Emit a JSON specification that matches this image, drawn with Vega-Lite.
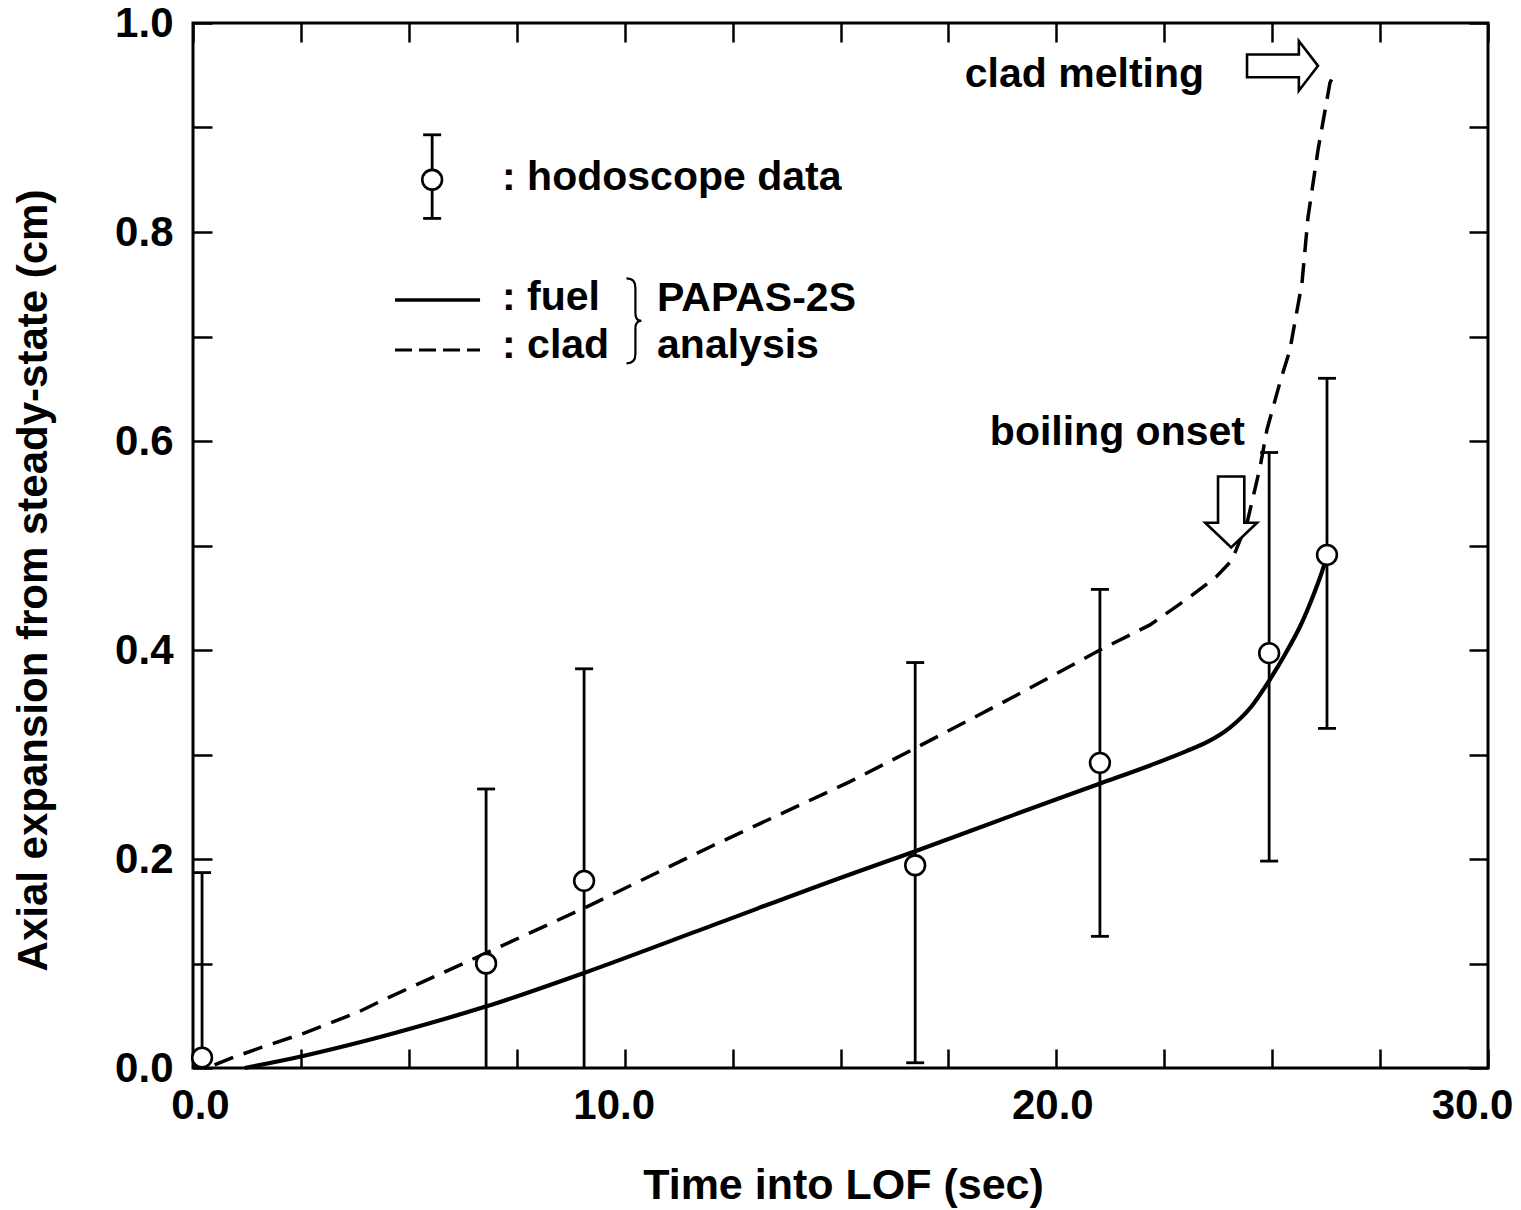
{
  "$schema": "https://vega.github.io/schema/vega-lite/v6.json",
  "width": 1295,
  "height": 1045,
  "autosize": {"type": "none"},
  "padding": {"left": 193, "top": 23, "right": 33, "bottom": 142},
  "background": "white",
  "config": {
    "view": {"stroke": "black", "strokeWidth": 3},
    "font": "Liberation Sans",
    "text": {"font": "Liberation Sans", "fontWeight": "bold", "fontSize": 41, "color": "black"}
  },
  "datasets": {
    "fuel": [
      {"t": 1.2, "v": 0.0}, {"t": 2.5, "v": 0.011}, {"t": 4.0, "v": 0.026}, {"t": 5.5, "v": 0.043},
      {"t": 6.8, "v": 0.059}, {"t": 9.06, "v": 0.091}, {"t": 12.0, "v": 0.136}, {"t": 15.2, "v": 0.185},
      {"t": 16.7, "v": 0.207}, {"t": 19.0, "v": 0.242}, {"t": 21.0, "v": 0.272}, {"t": 22.2, "v": 0.29},
      {"t": 23.0, "v": 0.303}, {"t": 23.5, "v": 0.312}, {"t": 24.0, "v": 0.325}, {"t": 24.5, "v": 0.345},
      {"t": 24.95, "v": 0.372}, {"t": 25.3, "v": 0.396}, {"t": 25.64, "v": 0.422}, {"t": 25.95, "v": 0.452},
      {"t": 26.18, "v": 0.478}, {"t": 26.3, "v": 0.495}
    ],
    "clad": [
      {"t": 0.5, "v": 0.003}, {"t": 0.9, "v": 0.0096}, {"t": 1.6, "v": 0.02}, {"t": 2.55, "v": 0.033},
      {"t": 3.8, "v": 0.053}, {"t": 4.4, "v": 0.065}, {"t": 6.79, "v": 0.11}, {"t": 9.06, "v": 0.153},
      {"t": 12.0, "v": 0.212}, {"t": 15.22, "v": 0.274}, {"t": 16.73, "v": 0.306}, {"t": 19.0, "v": 0.355},
      {"t": 21.01, "v": 0.4}, {"t": 22.17, "v": 0.424}, {"t": 23.1, "v": 0.451}, {"t": 23.7, "v": 0.47},
      {"t": 24.07, "v": 0.486}, {"t": 24.42, "v": 0.522}, {"t": 24.72, "v": 0.575}, {"t": 24.88, "v": 0.611},
      {"t": 25.18, "v": 0.656}, {"t": 25.41, "v": 0.687}, {"t": 25.69, "v": 0.751}, {"t": 25.83, "v": 0.814},
      {"t": 26.06, "v": 0.878}, {"t": 26.34, "v": 0.943}, {"t": 26.39, "v": 0.947}
    ],
    "hodoscope": [
      {"t": 0.21, "v": 0.01, "lo": -0.167, "hi": 0.187},
      {"t": 6.79, "v": 0.1, "lo": -0.066, "hi": 0.267},
      {"t": 9.06, "v": 0.179, "lo": -0.024, "hi": 0.382},
      {"t": 16.73, "v": 0.194, "lo": 0.005, "hi": 0.388},
      {"t": 21.01, "v": 0.292, "lo": 0.126, "hi": 0.458},
      {"t": 24.93, "v": 0.397, "lo": 0.198, "hi": 0.589},
      {"t": 26.27, "v": 0.491, "lo": 0.325, "hi": 0.66}
    ],
    "legendErr": [{"t": 5.54, "v": 0.85, "lo": 0.813, "hi": 0.893}],
    "labels": [
      {"t": 17.88, "v": 0.939, "label": "clad melting"},
      {"t": 18.46, "v": 0.596, "label": "boiling onset"},
      {"t": 7.16, "v": 0.84, "label": ": hodoscope data"},
      {"t": 7.16, "v": 0.725, "label": ": fuel"},
      {"t": 7.16, "v": 0.679, "label": ": clad"},
      {"t": 10.75, "v": 0.724, "label": "PAPAS-2S"},
      {"t": 10.75, "v": 0.679, "label": "analysis"}
    ],
    "legendLines": [
      {"t": 4.68, "t2": 6.65, "v": 0.735, "series": "fuel"},
      {"t": 4.68, "t2": 6.65, "v": 0.687, "series": "clad"}
    ],
    "rightArrow": [{"t": 25.24, "v": 0.959}],
    "downArrow": [{"t": 24.05, "v": 0.532}],
    "brace": [{"t": 10.19, "v": 0.715}]
  },
  "layer": [
    {
      "encoding": {
        "x": {"field": "t", "type": "quantitative", "scale": {"domain": [0, 30], "nice": false, "zero": false}, "axis": null},
        "y": {"field": "v", "type": "quantitative", "scale": {"domain": [0, 1], "nice": false, "zero": false}, "axis": null}
      },
      "layer": [
        {
          "data": {"name": "fuel"},
          "mark": {"type": "line", "color": "black", "strokeWidth": 4.2, "interpolate": "monotone"}
        },
        {
          "data": {"name": "clad"},
          "mark": {"type": "line", "color": "black", "strokeWidth": 3.5, "strokeDash": [20, 11], "interpolate": "linear"}
        },
        {
          "data": {"name": "hodoscope"},
          "mark": {"type": "rule", "color": "black", "strokeWidth": 2.8, "clip": true},
          "encoding": {
            "y": {"field": "lo", "type": "quantitative", "scale": {"domain": [0, 1], "nice": false, "zero": false}, "axis": null},
            "y2": {"field": "hi"}
          }
        },
        {
          "data": {"name": "hodoscope"},
          "mark": {"type": "tick", "orient": "horizontal", "color": "black", "size": 18, "thickness": 2.8, "opacity": 1, "clip": true},
          "encoding": {
            "y": {"field": "hi", "type": "quantitative", "scale": {"domain": [0, 1], "nice": false, "zero": false}, "axis": null}
          }
        },
        {
          "data": {"name": "hodoscope"},
          "mark": {"type": "tick", "orient": "horizontal", "color": "black", "size": 18, "thickness": 2.8, "opacity": 1, "clip": true},
          "encoding": {
            "y": {"field": "lo", "type": "quantitative", "scale": {"domain": [0, 1], "nice": false, "zero": false}, "axis": null}
          }
        },
        {
          "data": {"name": "hodoscope"},
          "mark": {"type": "point", "shape": "circle", "filled": true, "fill": "white", "stroke": "black", "strokeWidth": 2.6, "size": 390, "opacity": 1}
        },
        {
          "data": {"name": "legendErr"},
          "mark": {"type": "rule", "color": "black", "strokeWidth": 2.8},
          "encoding": {
            "y": {"field": "lo", "type": "quantitative", "scale": {"domain": [0, 1], "nice": false, "zero": false}, "axis": null},
            "y2": {"field": "hi"}
          }
        },
        {
          "data": {"name": "legendErr"},
          "mark": {"type": "tick", "orient": "horizontal", "color": "black", "size": 18, "thickness": 2.8, "opacity": 1},
          "encoding": {
            "y": {"field": "hi", "type": "quantitative", "scale": {"domain": [0, 1], "nice": false, "zero": false}, "axis": null}
          }
        },
        {
          "data": {"name": "legendErr"},
          "mark": {"type": "tick", "orient": "horizontal", "color": "black", "size": 18, "thickness": 2.8, "opacity": 1},
          "encoding": {
            "y": {"field": "lo", "type": "quantitative", "scale": {"domain": [0, 1], "nice": false, "zero": false}, "axis": null}
          }
        },
        {
          "data": {"name": "legendErr"},
          "mark": {"type": "point", "shape": "circle", "filled": true, "fill": "white", "stroke": "black", "strokeWidth": 2.6, "size": 390, "opacity": 1}
        },
        {
          "data": {"name": "legendLines"},
          "transform": [{"filter": "datum.series === 'fuel'"}],
          "mark": {"type": "rule", "color": "black", "strokeWidth": 3.5},
          "encoding": {"x2": {"field": "t2"}}
        },
        {
          "data": {"name": "legendLines"},
          "transform": [{"filter": "datum.series === 'clad'"}],
          "mark": {"type": "rule", "color": "black", "strokeWidth": 3, "strokeDash": [17, 7]},
          "encoding": {"x2": {"field": "t2"}}
        },
        {
          "data": {"name": "labels"},
          "mark": {"type": "text", "align": "left", "baseline": "alphabetic", "font": "Liberation Sans", "fontWeight": "bold", "fontSize": 41, "color": "black"},
          "encoding": {"text": {"field": "label"}}
        },
        {
          "data": {"name": "rightArrow"},
          "mark": {"type": "point", "shape": "M -1 -0.32 L 0.46 -0.32 L 0.46 -0.7 L 1 0 L 0.46 0.7 L 0.46 0.32 L -1 0.32 Z", "size": 5041, "filled": true, "fill": "white", "stroke": "black", "strokeWidth": 2.6, "opacity": 1}
        },
        {
          "data": {"name": "downArrow"},
          "mark": {"type": "point", "shape": "M -0.37 -1 L 0.37 -1 L 0.37 0.3 L 0.73 0.3 L 0 1 L -0.73 0.3 L -0.37 0.3 Z", "size": 5041, "filled": true, "fill": "white", "stroke": "black", "strokeWidth": 2.6, "opacity": 1}
        },
        {
          "data": {"name": "brace"},
          "mark": {"type": "point", "shape": "M -0.15 -1 Q 0.06 -1 0.06 -0.78 L 0.06 -0.18 Q 0.06 0 0.2 0 Q 0.06 0 0.06 0.18 L 0.06 0.78 Q 0.06 1 -0.15 1", "size": 7225, "filled": false, "stroke": "black", "strokeWidth": 2.2, "opacity": 1}
        }
      ]
    },
    {
      "data": {"name": "legendErr"},
      "mark": {"type": "point", "opacity": 0},
      "encoding": {
        "x": {
          "field": "t", "type": "quantitative",
          "scale": {"domain": [0, 30], "nice": false, "zero": false},
          "axis": {
            "orient": "bottom",
            "values": [0, 2.5, 5, 7.5, 10, 12.5, 15, 17.5, 20, 22.5, 25, 27.5, 30],
            "labelExpr": "datum.value % 10 === 0 ? format(datum.value, '.1f') : ''",
            "labelFlush": false, "labelOverlap": false, "labelBound": false,
            "labelOffset": {"condition": [{"test": "datum.value === 30", "value": -16}, {"test": "datum.value === 10", "value": -11}, {"test": "datum.value === 0", "value": 7}], "value": -4},
            "domain": false, "grid": false,
            "tickSize": -19, "tickWidth": 2.5, "tickColor": "black",
            "labelFont": "Liberation Sans", "labelFontSize": 42, "labelFontWeight": "bold", "labelColor": "black",
            "labelPadding": 36,
            "title": "Time into LOF (sec)",
            "titleFont": "Liberation Sans", "titleFontSize": 43, "titleFontWeight": "bold", "titleColor": "black",
            "titleX": 650, "titleY": 130, "titleAlign": "center", "titleBaseline": "alphabetic"
          }
        },
        "y": {
          "field": "v", "type": "quantitative",
          "scale": {"domain": [0, 1], "nice": false, "zero": false},
          "axis": {
            "orient": "left",
            "values": [0, 0.1, 0.2, 0.3, 0.4, 0.5, 0.6, 0.7, 0.8, 0.9, 1.0],
            "labelExpr": "round(datum.value * 10) % 2 === 0 ? format(datum.value, '.1f') : ''",
            "labelFlush": false, "labelOverlap": false, "labelBound": false,
            "domain": false, "grid": false,
            "tickSize": -19, "tickWidth": 2.5, "tickColor": "black",
            "labelFont": "Liberation Sans", "labelFontSize": 42, "labelFontWeight": "bold", "labelColor": "black",
            "labelPadding": 39,
            "title": "Axial expansion from steady-state (cm)",
            "titleFont": "Liberation Sans", "titleFontSize": 42, "titleFontWeight": "bold", "titleColor": "black",
            "titleX": -147, "titleY": 557, "titleAngle": -90, "titleAlign": "center", "titleBaseline": "alphabetic"
          }
        }
      }
    },
    {
      "data": {"name": "legendErr"},
      "mark": {"type": "point", "opacity": 0},
      "encoding": {
        "x": {
          "field": "t", "type": "quantitative",
          "scale": {"domain": [0, 30], "nice": false, "zero": false},
          "axis": {
            "orient": "top",
            "values": [0, 2.5, 5, 7.5, 10, 12.5, 15, 17.5, 20, 22.5, 25, 27.5, 30],
            "labels": false, "domain": false, "grid": false, "title": null,
            "tickSize": -19, "tickWidth": 2.5, "tickColor": "black"
          }
        },
        "y": {
          "field": "v", "type": "quantitative",
          "scale": {"domain": [0, 1], "nice": false, "zero": false},
          "axis": {
            "orient": "right",
            "values": [0, 0.1, 0.2, 0.3, 0.4, 0.5, 0.6, 0.7, 0.8, 0.9, 1.0],
            "labels": false, "domain": false, "grid": false, "title": null,
            "tickSize": -19, "tickWidth": 2.5, "tickColor": "black"
          }
        }
      }
    }
  ],
  "resolve": {
    "scale": {"x": "independent", "y": "independent"},
    "axis": {"x": "independent", "y": "independent"}
  }
}
